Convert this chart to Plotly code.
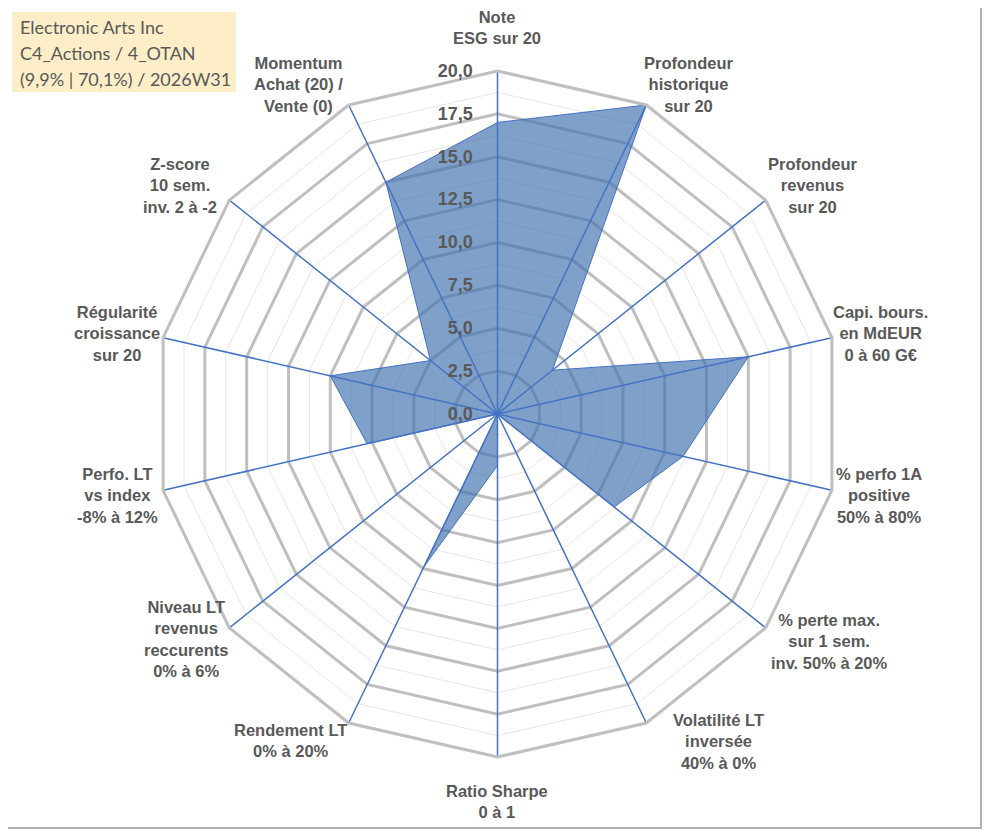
import plotly.graph_objects as go

categories = [
    "Note<br>ESG sur 20",
    "Profondeur<br>historique<br>sur 20",
    "Profondeur<br>revenus<br>sur 20",
    "Capi. bours.<br>en MdEUR<br>0 à 60 G€",
    "% perfo 1A<br>positive<br>50% à 80%",
    "% perte max.<br>sur 1 sem.<br>inv. 50% à 20%",
    "Volatilité LT<br>inversée<br>40% à 0%",
    "Ratio Sharpe<br>0 à 1",
    "Rendement LT<br>0% à 20%",
    "Niveau LT<br>revenus<br>reccurents<br>0% à 6%",
    "Perfo. LT<br>vs index<br>-8% à 12%",
    "Régularité<br>croissance<br>sur 20",
    "Z-score<br>10 sem.<br>inv. 2 à -2",
    "Momentum<br>Achat (20) /<br>Vente (0)",
]
values = [17.0, 20.0, 4.1, 15.0, 11.1, 8.7, 0.0, 3.0, 9.9, 0.0, 7.8, 10.0, 5.0, 15.0]

r_max = 20.0
major_ticks = [0, 2.5, 5, 7.5, 10, 12.5, 15, 17.5, 20]
major_labels = ["0,0", "2,5", "5,0", "7,5", "10,0", "12,5", "15,0", "17,5", "20,0"]
minor_rings = [1.25, 3.75, 6.25, 8.75, 11.25, 13.75, 16.25, 18.75]

title_lines = ["Electronic Arts Inc", "C4_Actions / 4_OTAN", "(9,9% | 70,1%) / 2026W31"]

# label centres (page pixels) of the category captions
label_pos = [(497, 27), (688, 85), (812, 186), (880, 333), (879, 495), (829, 641),
             (718, 741), (497, 801), (290, 740), (186, 639), (117, 495), (117, 333),
             (180, 186), (298, 85)]

W, H = 991, 830
OFF = 8  # page body margin
TXT = "#595959"


def px(x):
    return (x - OFF) / W


def py(y):
    return 1 - (y - OFF) / H


fig = go.Figure()

# minor rings
mr, mt = [], []
for m in minor_rings:
    mr += [m] * (len(categories) + 1) + [None]
    mt += categories + [categories[0], None]
fig.add_trace(go.Scatterpolar(r=mr, theta=mt, mode="lines",
                              line=dict(color="#e6e6e6", width=1),
                              hoverinfo="skip", showlegend=False))

# data polygon
fig.add_trace(go.Scatterpolar(r=values + [values[0]], theta=categories + [categories[0]],
                              mode="lines", fill="toself",
                              fillcolor="rgba(66,115,174,0.68)",
                              line=dict(color="#4472c4", width=1),
                              showlegend=False))

# spokes
sr, st = [], []
for c in categories:
    sr += [0, r_max, None]
    st += [c, c, None]
fig.add_trace(go.Scatterpolar(r=sr, theta=st, mode="lines",
                              line=dict(color="#4472c4", width=1.5),
                              hoverinfo="skip", showlegend=False))

R = 343
cx, cy = 497.5 - OFF, 414 - OFF
fig.update_layout(
    width=W, height=H,
    margin=dict(l=0, r=0, t=0, b=0),
    paper_bgcolor="white",
    polar=dict(
        domain=dict(x=[(cx - R) / W, (cx + R) / W],
                    y=[(H - cy - R) / H, (H - cy + R) / H]),
        gridshape="linear",
        bgcolor="white",
        angularaxis=dict(
            type="category", categoryorder="array", categoryarray=categories,
            direction="clockwise", rotation=90,
            showgrid=False, showline=True, linecolor="#bfbfbf", linewidth=3,
            showticklabels=False, ticks="",
        ),
        radialaxis=dict(
            range=[0, r_max], tickvals=major_ticks, ticktext=major_labels,
            angle=90, tickangle=90, side="counterclockwise",
            showline=False, showgrid=True, gridcolor="#bfbfbf", gridwidth=3,
            ticks="outside", ticklen=18, tickcolor="rgba(0,0,0,0)",
            tickfont=dict(family="Liberation Sans", size=18, color=TXT, weight="bold"),
        ),
    ),
    shapes=[
        dict(type="rect", xref="paper", yref="paper",
             x0=px(3), x1=px(981), y0=py(828), y1=py(2),
             line=dict(color="#b0b0b0", width=2), fillcolor="rgba(0,0,0,0)"),
        dict(type="rect", xref="paper", yref="paper",
             x0=px(12), x1=px(236), y0=py(92), y1=py(12),
             line=dict(width=0), fillcolor="#fdeec8", layer="below"),
    ],
)

for i, t in enumerate(title_lines):
    fig.add_annotation(xref="paper", yref="paper", x=px(18), y=py(27 + 26 * i),
                       xanchor="left", yanchor="middle", showarrow=False, text=t,
                       font=dict(family="Lato", size=18, color=TXT))

for c, (lx, ly) in zip(categories, label_pos):
    fig.add_annotation(xref="paper", yref="paper", x=px(lx), y=py(ly),
                       xanchor="center", yanchor="middle", align="center",
                       showarrow=False, text=c,
                       font=dict(family="Liberation Sans", size=16.5, color=TXT,
                                 weight="bold"))

fig.write_html("out.html")
